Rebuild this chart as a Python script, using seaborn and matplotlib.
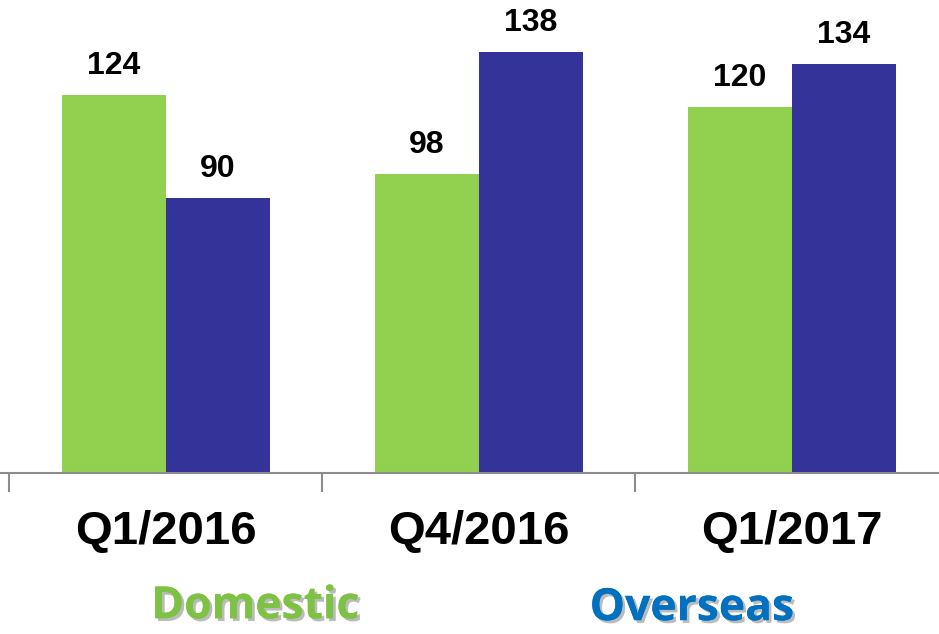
import numpy as np
import pandas as pd
import matplotlib
matplotlib.use('Agg')
import matplotlib.pyplot as plt
import matplotlib.patheffects as pe
import seaborn as sns

# Chart data
quarters = ['Q1/2016', 'Q4/2016', 'Q1/2017']
domestic = [124, 98, 120]
overseas = [90, 138, 134]

df = pd.DataFrame({
    'Quarter': quarters * 2,
    'Region': ['Domestic'] * 3 + ['Overseas'] * 3,
    'Value': domestic + overseas,
})

sns.set_style('white')
plt.rcParams['font.family'] = ['Liberation Sans', 'DejaVu Sans']

fig = plt.figure(figsize=(9.39, 6.34), dpi=100)
ax = fig.add_axes([0.0, 0.254, 1.0, 0.746])

sns.barplot(data=df, x='Quarter', y='Value', hue='Region',
            palette=['#92D050', '#333399'], width=0.667, gap=0,
            saturation=1, legend=False, linewidth=0, edgecolor='none', ax=ax)

for c in ax.containers:
    ax.bar_label(c, padding=10, fontsize=23, fontweight='bold', color='black')

ax.set_xlabel('')
ax.set_ylabel('')
ax.set_yticks([])
for s in ['left', 'top', 'right']:
    ax.spines[s].set_visible(False)
ax.spines['bottom'].set_color('#8c8c8c')
ax.spines['bottom'].set_linewidth(1.5)

ax.set_xticks(range(len(quarters)))
ax.set_xticklabels(quarters, fontsize=34, fontweight='bold', color='black')
ax.tick_params(axis='x', which='major', length=0, pad=27)
ax.set_xticks([-0.5, 0.5, 1.5, 2.5], minor=True)
ax.tick_params(axis='x', which='minor', bottom=True, direction='out', length=14, width=1.5, color='#8c8c8c')

# limits last, so the minor ticks do not widen them
ax.set_xlim(-0.53, 2.47)
ax.set_ylim(0, 155)

shadow = [pe.withSimplePatchShadow(offset=(2, -2), shadow_rgbFace='#555555', alpha=0.4),
          pe.Normal()]
fig.text(0.272, 0.043, 'Domestic', fontsize=32, fontweight='bold', color='#7DC242',
         family=['Open Sans', 'DejaVu Sans'], ha='center', va='center', path_effects=shadow)
fig.text(0.737, 0.040, 'Overseas', fontsize=32, fontweight='bold', color='#0070C0',
         family=['Open Sans', 'DejaVu Sans'], ha='center', va='center', path_effects=shadow)

fig.savefig('out.png', dpi=100)
